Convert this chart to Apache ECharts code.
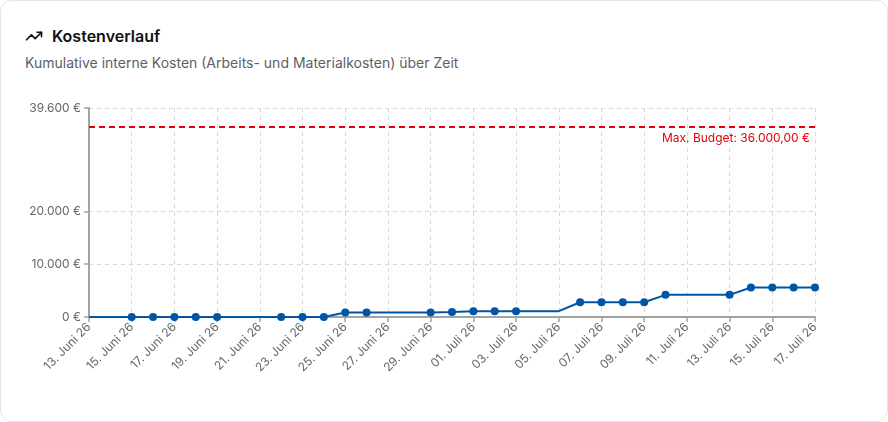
<!DOCTYPE html>
<html>
<head>
<meta charset="utf-8">
<script src="https://cdn.jsdelivr.net/npm/echarts@6/dist/echarts.min.js"></script>
<style>
  html, body { margin: 0; padding: 0; background: #fff; width: 888px; height: 422px; overflow: hidden; font-family: Inter, "Noto Sans", sans-serif; }
  #card { position: absolute; left: 0; top: 0; width: 886px; height: 420px; border: 1px solid #e4e6ea; border-radius: 12px; background: #fff; }
  #title { position: absolute; left: 25px; top: 25px; height: 22px; display: flex; align-items: center; font-size: 16px; font-weight: 600; color: #111; }
  #title svg { margin-right: 9px; }
  #subtitle { position: absolute; left: 25px; top: 54px; font-size: 14px; color: #5c5f66; }
  #chart { position: absolute; left: 0; top: 0; width: 888px; height: 422px; }
</style>
</head>
<body>
<div id="card"></div>
<div id="title"><svg width="18" height="18" viewBox="0 0 24 24" fill="none" stroke="#111" stroke-width="2.2" stroke-linecap="round" stroke-linejoin="round"><polyline points="22 7 13.5 15.5 8.5 10.5 2 17"></polyline><polyline points="16 7 22 7 22 13"></polyline></svg>Kostenverlauf</div>
<div id="subtitle">Kumulative interne Kosten (Arbeits- und Materialkosten) über Zeit</div>
<div id="chart"></div>
<script>
const categories = [
  "13. Juni 26","14. Juni 26","15. Juni 26","16. Juni 26","17. Juni 26","18. Juni 26","19. Juni 26",
  "20. Juni 26","21. Juni 26","22. Juni 26","23. Juni 26","24. Juni 26","25. Juni 26","26. Juni 26",
  "27. Juni 26","28. Juni 26","29. Juni 26","30. Juni 26","01. Juli 26","02. Juli 26","03. Juli 26",
  "04. Juli 26","05. Juli 26","06. Juli 26","07. Juli 26","08. Juli 26","09. Juli 26","10. Juli 26",
  "11. Juli 26","12. Juli 26","13. Juli 26","14. Juli 26","15. Juli 26","16. Juli 26","17. Juli 26"
];
const costs = [
  0,0,0,0,0,0,0,
  0,0,0,0,0,850,850,
  850,850,850,950,1100,1100,1100,
  1100,1100,2800,2800,2800,2800,4200,
  4200,4200,4200,5600,5600,5600,5600
];
const hasEntry = [
  0,0,1,1,1,1,1,
  0,0,1,1,1,1,1,
  0,0,1,1,1,1,1,
  0,0,1,1,1,1,1,
  0,0,1,1,1,1,1
];
const budget = 36000;
const yMax = 39600;
const yTicks = [0, 10000, 20000, 39600];

const fmtEuro = v => v.toLocaleString('de-DE') + ' €';

const seriesData = costs.map((v, i) => ({
  value: v,
  symbol: hasEntry[i] ? 'circle' : 'none'
}));

const chart = echarts.init(document.getElementById('chart'));
chart.setOption({
  animation: false,
  grid: { left: 89, right: 73, top: 108, bottom: 105, outerBoundsMode: 'none', containLabel: false },
  xAxis: {
    type: 'category',
    data: categories,
    boundaryGap: false,
    axisLine: { lineStyle: { color: '#a3a3a3', width: 2 } },
    axisTick: { show: true, interval: 1, length: 5, lineStyle: { color: '#a3a3a3', width: 1.5 } },
    axisLabel: { interval: 1, rotate: 45, color: '#666', fontSize: 12, fontFamily: 'Inter', margin: 8 },
    splitLine: { show: true, interval: 1, lineStyle: { color: '#d9d9d9', type: [4, 4], width: 1 } }
  },
  yAxis: {
    type: 'value',
    min: 0,
    max: yMax,
    axisLine: { show: true, lineStyle: { color: '#a3a3a3', width: 2 } },
    axisTick: { show: true, length: 5, customValues: yTicks, lineStyle: { color: '#a3a3a3', width: 1.5 } },
    axisLabel: { customValues: yTicks, color: '#666', fontSize: 12, fontFamily: 'Inter', margin: 8, formatter: v => fmtEuro(v) },
    splitLine: { show: true, lineStyle: { color: '#d9d9d9', type: [4, 4], width: 1 } }
  },
  series: [{
    type: 'line',
    data: seriesData,
    symbolSize: 8,
    showAllSymbol: true,
    lineStyle: { color: '#0055a5', width: 2 },
    itemStyle: { color: '#0055a5' },
    markLine: {
      silent: true,
      symbol: 'none',
      data: [{ yAxis: budget }],
      lineStyle: { color: '#e7000b', type: [6, 4], width: 2 },
      label: {
        position: 'insideEndBottom',
        color: '#e7000b',
        fontSize: 12,
        fontFamily: 'Inter',
        formatter: () => 'Max. Budget: ' + budget.toLocaleString('de-DE', { minimumFractionDigits: 2, maximumFractionDigits: 2 }) + ' €'
      }
    }
  }]
});
</script>
</body>
</html>
